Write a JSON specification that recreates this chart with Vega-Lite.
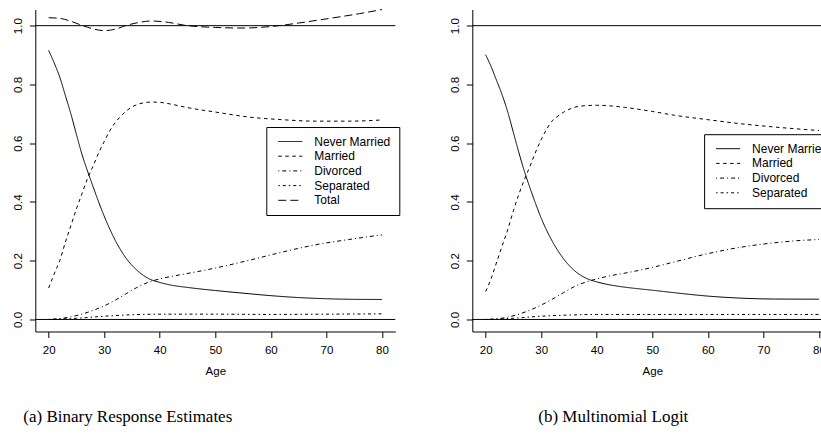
{
  "$schema": "https://vega.github.io/schema/vega-lite/v6.json",
  "padding": {"left": 11.3, "top": 7.5, "right": 0, "bottom": 0},
  "background": "white",
  "bounds": "flush",
  "spacing": 77,
  "config": {
    "view": {"stroke": null},
    "font": "Liberation Sans",
    "axis": {
      "grid": false,
      "domainColor": "black",
      "tickColor": "black",
      "labelColor": "black",
      "titleColor": "black",
      "labelFont": "Liberation Sans",
      "titleFont": "Liberation Sans",
      "labelFontSize": 11.5,
      "titleFontSize": 11.5,
      "titleFontWeight": "normal",
      "tickSize": 6
    },
    "legend": {
      "labelFont": "Liberation Sans",
      "labelFontSize": 12,
      "labelColor": "black"
    },
    "title": {
      "font": "Liberation Serif",
      "fontSize": 17,
      "fontWeight": "normal",
      "color": "black"
    }
  },
  "datasets": {
    "refs": [{"ref": 0}, {"ref": 1}],
    "a": [
      {"series": "Never Married", "age": 20, "p": 0.916},
      {"series": "Never Married", "age": 21, "p": 0.873},
      {"series": "Never Married", "age": 22, "p": 0.825},
      {"series": "Never Married", "age": 23, "p": 0.763},
      {"series": "Never Married", "age": 24, "p": 0.700},
      {"series": "Never Married", "age": 25, "p": 0.630},
      {"series": "Never Married", "age": 26, "p": 0.562},
      {"series": "Never Married", "age": 27, "p": 0.505},
      {"series": "Never Married", "age": 28, "p": 0.452},
      {"series": "Never Married", "age": 29, "p": 0.400},
      {"series": "Never Married", "age": 30, "p": 0.352},
      {"series": "Never Married", "age": 32, "p": 0.269},
      {"series": "Never Married", "age": 34, "p": 0.207},
      {"series": "Never Married", "age": 36, "p": 0.166},
      {"series": "Never Married", "age": 38, "p": 0.139},
      {"series": "Never Married", "age": 40, "p": 0.126},
      {"series": "Never Married", "age": 42, "p": 0.117},
      {"series": "Never Married", "age": 45, "p": 0.109},
      {"series": "Never Married", "age": 50, "p": 0.0985},
      {"series": "Never Married", "age": 55, "p": 0.0895},
      {"series": "Never Married", "age": 60, "p": 0.081},
      {"series": "Never Married", "age": 65, "p": 0.0745},
      {"series": "Never Married", "age": 70, "p": 0.0705},
      {"series": "Never Married", "age": 75, "p": 0.0685},
      {"series": "Never Married", "age": 80, "p": 0.068},
      {"series": "Married", "age": 20, "p": 0.107},
      {"series": "Married", "age": 21, "p": 0.155},
      {"series": "Married", "age": 22, "p": 0.200},
      {"series": "Married", "age": 23, "p": 0.262},
      {"series": "Married", "age": 24, "p": 0.319},
      {"series": "Married", "age": 25, "p": 0.376},
      {"series": "Married", "age": 26, "p": 0.428},
      {"series": "Married", "age": 27, "p": 0.480},
      {"series": "Married", "age": 28, "p": 0.522},
      {"series": "Married", "age": 29, "p": 0.567},
      {"series": "Married", "age": 30, "p": 0.605},
      {"series": "Married", "age": 31, "p": 0.642},
      {"series": "Married", "age": 32, "p": 0.670},
      {"series": "Married", "age": 33, "p": 0.692},
      {"series": "Married", "age": 34, "p": 0.710},
      {"series": "Married", "age": 35, "p": 0.723},
      {"series": "Married", "age": 36, "p": 0.732},
      {"series": "Married", "age": 37, "p": 0.737},
      {"series": "Married", "age": 38.5, "p": 0.740},
      {"series": "Married", "age": 40, "p": 0.739},
      {"series": "Married", "age": 42, "p": 0.733},
      {"series": "Married", "age": 45, "p": 0.721},
      {"series": "Married", "age": 50, "p": 0.706},
      {"series": "Married", "age": 56, "p": 0.689},
      {"series": "Married", "age": 62, "p": 0.680},
      {"series": "Married", "age": 68, "p": 0.675},
      {"series": "Married", "age": 74, "p": 0.675},
      {"series": "Married", "age": 80, "p": 0.679},
      {"series": "Divorced", "age": 20, "p": 0.000},
      {"series": "Divorced", "age": 22, "p": 0.003},
      {"series": "Divorced", "age": 24, "p": 0.009},
      {"series": "Divorced", "age": 26, "p": 0.018},
      {"series": "Divorced", "age": 28, "p": 0.031},
      {"series": "Divorced", "age": 30, "p": 0.046},
      {"series": "Divorced", "age": 32, "p": 0.066},
      {"series": "Divorced", "age": 34, "p": 0.088},
      {"series": "Divorced", "age": 36, "p": 0.110},
      {"series": "Divorced", "age": 38, "p": 0.127},
      {"series": "Divorced", "age": 40, "p": 0.138},
      {"series": "Divorced", "age": 42, "p": 0.146},
      {"series": "Divorced", "age": 46, "p": 0.160},
      {"series": "Divorced", "age": 50, "p": 0.175},
      {"series": "Divorced", "age": 56, "p": 0.201},
      {"series": "Divorced", "age": 62, "p": 0.229},
      {"series": "Divorced", "age": 68, "p": 0.254},
      {"series": "Divorced", "age": 74, "p": 0.272},
      {"series": "Divorced", "age": 80, "p": 0.288},
      {"series": "Separated", "age": 20, "p": 0.000},
      {"series": "Separated", "age": 25, "p": 0.004},
      {"series": "Separated", "age": 30, "p": 0.011},
      {"series": "Separated", "age": 35, "p": 0.016},
      {"series": "Separated", "age": 40, "p": 0.018},
      {"series": "Separated", "age": 50, "p": 0.018},
      {"series": "Separated", "age": 60, "p": 0.017},
      {"series": "Separated", "age": 70, "p": 0.018},
      {"series": "Separated", "age": 80, "p": 0.019},
      {"series": "Total", "age": 20, "p": 1.027},
      {"series": "Total", "age": 22, "p": 1.025},
      {"series": "Total", "age": 24, "p": 1.015},
      {"series": "Total", "age": 26, "p": 1.001},
      {"series": "Total", "age": 28, "p": 0.989},
      {"series": "Total", "age": 30, "p": 0.983},
      {"series": "Total", "age": 32, "p": 0.988},
      {"series": "Total", "age": 34, "p": 1.001},
      {"series": "Total", "age": 36, "p": 1.010},
      {"series": "Total", "age": 38.5, "p": 1.016},
      {"series": "Total", "age": 41.6, "p": 1.011},
      {"series": "Total", "age": 44.6, "p": 1.001},
      {"series": "Total", "age": 50, "p": 0.994},
      {"series": "Total", "age": 55, "p": 0.992},
      {"series": "Total", "age": 60, "p": 0.997},
      {"series": "Total", "age": 65, "p": 1.009},
      {"series": "Total", "age": 71, "p": 1.026},
      {"series": "Total", "age": 76, "p": 1.041},
      {"series": "Total", "age": 80, "p": 1.055}
    ],
    "b": [
      {"series": "Never Married", "age": 20, "p": 0.901},
      {"series": "Never Married", "age": 21, "p": 0.860},
      {"series": "Never Married", "age": 22, "p": 0.812},
      {"series": "Never Married", "age": 23, "p": 0.763},
      {"series": "Never Married", "age": 24, "p": 0.705},
      {"series": "Never Married", "age": 25, "p": 0.636},
      {"series": "Never Married", "age": 26, "p": 0.567},
      {"series": "Never Married", "age": 27, "p": 0.503},
      {"series": "Never Married", "age": 28, "p": 0.447},
      {"series": "Never Married", "age": 29, "p": 0.394},
      {"series": "Never Married", "age": 30, "p": 0.345},
      {"series": "Never Married", "age": 32, "p": 0.266},
      {"series": "Never Married", "age": 34, "p": 0.207},
      {"series": "Never Married", "age": 36, "p": 0.166},
      {"series": "Never Married", "age": 38, "p": 0.141},
      {"series": "Never Married", "age": 40, "p": 0.128},
      {"series": "Never Married", "age": 42, "p": 0.119},
      {"series": "Never Married", "age": 45, "p": 0.110},
      {"series": "Never Married", "age": 48, "p": 0.1035},
      {"series": "Never Married", "age": 50, "p": 0.0995},
      {"series": "Never Married", "age": 54, "p": 0.091},
      {"series": "Never Married", "age": 60, "p": 0.0795},
      {"series": "Never Married", "age": 66, "p": 0.0725},
      {"series": "Never Married", "age": 72, "p": 0.0695},
      {"series": "Never Married", "age": 80, "p": 0.069},
      {"series": "Married", "age": 20, "p": 0.095},
      {"series": "Married", "age": 21, "p": 0.140},
      {"series": "Married", "age": 22, "p": 0.196},
      {"series": "Married", "age": 23, "p": 0.252},
      {"series": "Married", "age": 24, "p": 0.307},
      {"series": "Married", "age": 25, "p": 0.370},
      {"series": "Married", "age": 26, "p": 0.427},
      {"series": "Married", "age": 27, "p": 0.477},
      {"series": "Married", "age": 28, "p": 0.522},
      {"series": "Married", "age": 29, "p": 0.570},
      {"series": "Married", "age": 30, "p": 0.612},
      {"series": "Married", "age": 31, "p": 0.648},
      {"series": "Married", "age": 32, "p": 0.676},
      {"series": "Married", "age": 33, "p": 0.692},
      {"series": "Married", "age": 34, "p": 0.705},
      {"series": "Married", "age": 35, "p": 0.715},
      {"series": "Married", "age": 37, "p": 0.726},
      {"series": "Married", "age": 40, "p": 0.729},
      {"series": "Married", "age": 45, "p": 0.722},
      {"series": "Married", "age": 48, "p": 0.714},
      {"series": "Married", "age": 50, "p": 0.708},
      {"series": "Married", "age": 54, "p": 0.695},
      {"series": "Married", "age": 60, "p": 0.680},
      {"series": "Married", "age": 66, "p": 0.666},
      {"series": "Married", "age": 72, "p": 0.655},
      {"series": "Married", "age": 80, "p": 0.643},
      {"series": "Divorced", "age": 20, "p": 0.000},
      {"series": "Divorced", "age": 22, "p": 0.002},
      {"series": "Divorced", "age": 24, "p": 0.008},
      {"series": "Divorced", "age": 26, "p": 0.018},
      {"series": "Divorced", "age": 28, "p": 0.032},
      {"series": "Divorced", "age": 30, "p": 0.049},
      {"series": "Divorced", "age": 32, "p": 0.069},
      {"series": "Divorced", "age": 34, "p": 0.091},
      {"series": "Divorced", "age": 36, "p": 0.112},
      {"series": "Divorced", "age": 38, "p": 0.127},
      {"series": "Divorced", "age": 40, "p": 0.138},
      {"series": "Divorced", "age": 42, "p": 0.147},
      {"series": "Divorced", "age": 46, "p": 0.161},
      {"series": "Divorced", "age": 50, "p": 0.177},
      {"series": "Divorced", "age": 54, "p": 0.196},
      {"series": "Divorced", "age": 60, "p": 0.224},
      {"series": "Divorced", "age": 66, "p": 0.246},
      {"series": "Divorced", "age": 72, "p": 0.261},
      {"series": "Divorced", "age": 76, "p": 0.268},
      {"series": "Divorced", "age": 80, "p": 0.272},
      {"series": "Separated", "age": 20, "p": 0.000},
      {"series": "Separated", "age": 25, "p": 0.004},
      {"series": "Separated", "age": 30, "p": 0.011},
      {"series": "Separated", "age": 35, "p": 0.015},
      {"series": "Separated", "age": 40, "p": 0.017},
      {"series": "Separated", "age": 50, "p": 0.017},
      {"series": "Separated", "age": 60, "p": 0.017},
      {"series": "Separated", "age": 70, "p": 0.017},
      {"series": "Separated", "age": 80, "p": 0.017}
    ]
  },
  "resolve": {
    "scale": {"strokeDash": "independent"},
    "legend": {"strokeDash": "independent"}
  },
  "hconcat": [
    {
      "width": 360,
      "height": 322,
      "title": {"text": "(a) Binary Response Estimates", "orient": "bottom", "anchor": "start", "frame": "group", "dx": -12, "offset": 32},
      "layer": [
        {
          "data": {"name": "a"},
          "mark": {"type": "line", "color": "black", "strokeWidth": 1, "interpolate": "monotone"},
          "encoding": {
            "x": {"field": "age", "type": "quantitative", "title": "Age",
                  "scale": {"domain": [17.6, 82.4], "nice": false, "zero": false},
                  "axis": {"values": [20, 30, 40, 50, 60, 70, 80], "labelPadding": 7, "titlePadding": 10}},
            "y": {"field": "p", "type": "quantitative", "title": null,
                  "scale": {"domain": [-0.041, 1.055], "nice": false, "zero": false},
                  "axis": {"values": [0, 0.2, 0.4, 0.6, 0.8, 1.0], "format": ".1f", "labelAngle": -90, "labelAlign": "center", "labelBaseline": "middle", "labelPadding": 11}},
            "strokeDash": {"field": "series", "type": "nominal",
              "scale": {"domain": ["Never Married", "Married", "Divorced", "Separated", "Total"],
                        "range": [[1, 0], [3.5, 3.5], [1, 3, 4, 3], [1.5, 3, 3, 3], [8, 4]]},
              "legend": {"title": null, "orient": "none", "legendX": 231, "legendY": 117.5,
                         "symbolType": "M-3,0H3", "symbolSize": 64, "symbolStrokeWidth": 1, "symbolStrokeColor": "black",
                         "strokeColor": "black", "fillColor": "white", "padding": 8.5, "symbolOffset": 9.5, "labelOffset": 18, "rowPadding": 2.7, "cornerRadius": 0}}
          }
        },
        {
          "data": {"name": "refs"},
          "mark": {"type": "rule", "color": "black", "strokeWidth": 1},
          "encoding": {
            "y": {"field": "ref", "type": "quantitative"}
          }
        }
      ]
    },
    {
      "width": 360,
      "height": 322,
      "title": {"text": "(b) Multinomial Logit", "orient": "bottom", "anchor": "start", "frame": "group", "dx": 66, "offset": 32},
      "layer": [
        {
          "data": {"name": "b"},
          "mark": {"type": "line", "color": "black", "strokeWidth": 1, "interpolate": "monotone"},
          "encoding": {
            "x": {"field": "age", "type": "quantitative", "title": "Age",
                  "scale": {"domain": [17.6, 82.4], "nice": false, "zero": false},
                  "axis": {"values": [20, 30, 40, 50, 60, 70, 80], "labelPadding": 7, "titlePadding": 10}},
            "y": {"field": "p", "type": "quantitative", "title": null,
                  "scale": {"domain": [-0.041, 1.055], "nice": false, "zero": false},
                  "axis": {"values": [0, 0.2, 0.4, 0.6, 0.8, 1.0], "format": ".1f", "labelAngle": -90, "labelAlign": "center", "labelBaseline": "middle", "labelPadding": 11}},
            "strokeDash": {"field": "series", "type": "nominal",
              "scale": {"domain": ["Never Married", "Married", "Divorced", "Separated"],
                        "range": [[1, 0], [3.5, 3.5], [1, 3, 4, 3], [1.5, 3, 3, 3]]},
              "legend": {"title": null, "orient": "none", "legendX": 231.8, "legendY": 124.7,
                         "symbolType": "M-3,0H3", "symbolSize": 64, "symbolStrokeWidth": 1, "symbolStrokeColor": "black",
                         "strokeColor": "black", "fillColor": "white", "padding": 8.5, "symbolOffset": 9.5, "labelOffset": 18, "rowPadding": 2.7, "cornerRadius": 0}}
          }
        },
        {
          "data": {"name": "refs"},
          "mark": {"type": "rule", "color": "black", "strokeWidth": 1},
          "encoding": {
            "y": {"field": "ref", "type": "quantitative"}
          }
        }
      ]
    }
  ]
}
